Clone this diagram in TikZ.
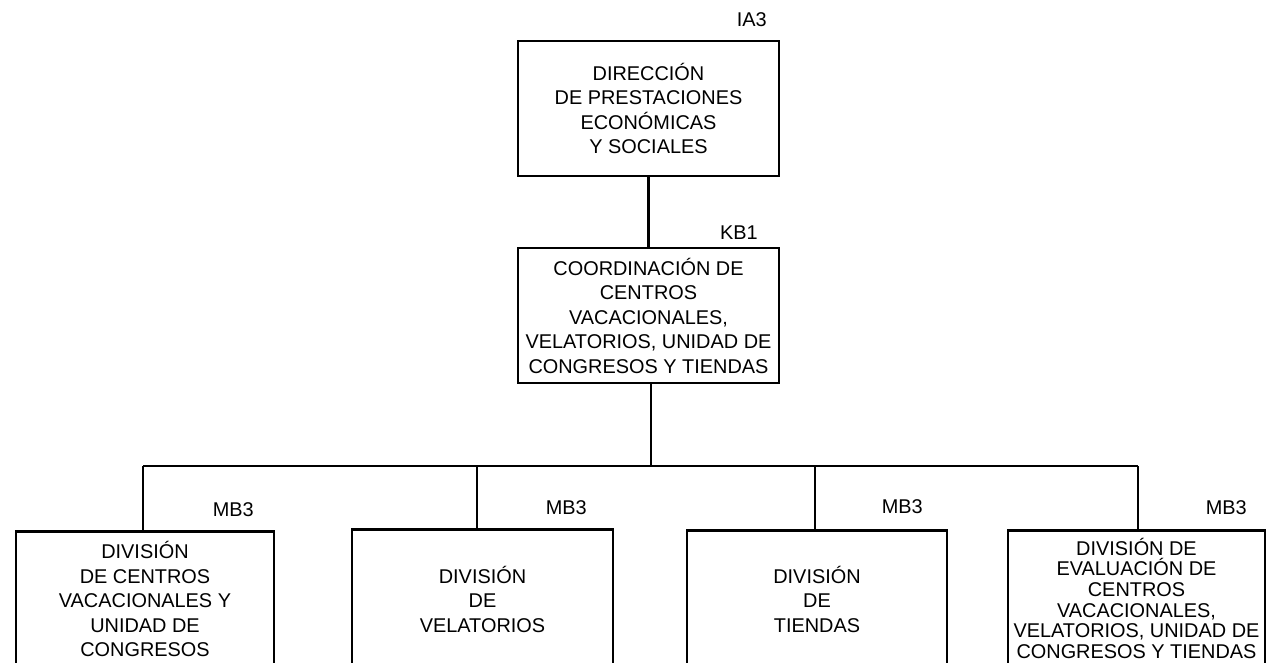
\documentclass[tikz,border=0pt]{standalone}
\usepackage{fontspec}
\setmainfont{Liberation Sans}
\begin{document}
\begin{tikzpicture}[x=1pt,y=-1pt,
  box/.style={draw, line width=2.6pt, align=center, inner sep=0pt,
    font=\fontsize{19.9}{24.5}\selectfont},
  tightbox/.style={box, font=\fontsize{19.9}{20.6}\selectfont},
  code/.style={inner sep=0pt, anchor=east, font=\fontsize{19.9}{22}\selectfont},
  conn/.style={line width=2.6pt}]
\clip (0,0) rectangle (1267,663);
\fill[white] (0,0) rectangle (1267,663);
% boxes
\node[box, minimum width=261pt, minimum height=135pt] (dir) at (648.5,108.5)
  {DIRECCIÓN\\DE PRESTACIONES\\ECONÓMICAS\\Y SOCIALES};
\node[box, minimum width=261pt, minimum height=135pt] (kb) at (648.5,315.5)
  {COORDINACIÓN DE\\CENTROS\\VACACIONALES,\\VELATORIOS, UNIDAD DE\\CONGRESOS Y TIENDAS};
\node[box, minimum width=258pt, minimum height=136pt, anchor=north] (b1) at (145,530)
  {DIVISIÓN\\DE CENTROS\\VACACIONALES Y\\UNIDAD DE\\CONGRESOS};
\node[box, minimum width=261pt, minimum height=140pt, anchor=north] (b2) at (482.5,528)
  {DIVISIÓN\\DE\\VELATORIOS};
\node[box, minimum width=260pt, minimum height=138pt, anchor=north] (b3) at (817,529)
  {DIVISIÓN\\DE\\TIENDAS};
\node[tightbox, minimum width=257pt, minimum height=136pt, anchor=north] (b4) at (1136.5,529)
  {DIVISIÓN DE\\EVALUACIÓN DE\\CENTROS\\VACACIONALES,\\VELATORIOS, UNIDAD DE\\CONGRESOS Y TIENDAS};
% codes
\node[code] (cia) at (767,20) {IA3};
\node[code] (ckb) at (758,233) {KB1};
\node[code] (c1) at (254,510) {MB3};
\node[code] (c2) at (587,508) {MB3};
\node[code] (c3) at (923,507) {MB3};
\node[code] (c4) at (1247,508) {MB3};
% connectors
\coordinate (busL) at (143,466);
\coordinate (busR) at (1138,466);
\coordinate (busK) at (651,466);
\coordinate (bus2) at (477,466);
\coordinate (bus3) at (815,466);
\draw[conn] (dir.south) -- (kb.north);
\draw[conn] (kb.south -| busK) -- (busK);
\draw[conn] (busL) -- (busR);
\draw[conn] (busL) -- (busL |- b1.north);
\draw[conn] (bus2) -- (bus2 |- b2.north);
\draw[conn] (bus3) -- (bus3 |- b3.north);
\draw[conn] (busR) -- (busR |- b4.north);
\end{tikzpicture}
\end{document}
